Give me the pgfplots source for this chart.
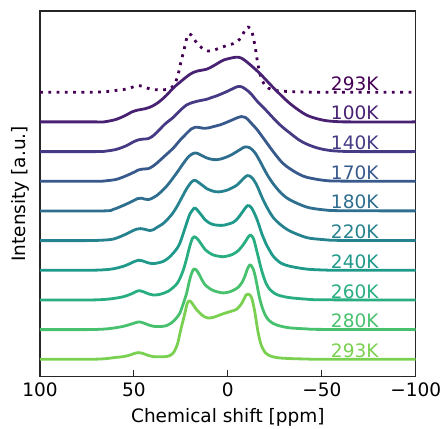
\documentclass[border=0pt]{standalone}
\usepackage{fontspec}
\setmainfont{DejaVu Sans}
\usepackage{pgfplots}
\usepackage{pgfplotstable}
\pgfplotsset{compat=1.18}

\definecolor{c0}{HTML}{440154}
\definecolor{c1}{HTML}{482173}
\definecolor{c2}{HTML}{443B84}
\definecolor{c3}{HTML}{38598C}
\definecolor{c4}{HTML}{2E6E8E}
\definecolor{c5}{HTML}{26828E}
\definecolor{c6}{HTML}{1F998A}
\definecolor{c7}{HTML}{28AE80}
\definecolor{c8}{HTML}{48C16E}
\definecolor{c9}{HTML}{7AD151}
\newcommand\fs{\fontsize{18.5}{22}\selectfont}

% spectra: chemical shift (ppm) vs. height above own baseline
\pgfplotstableread{
x h
100 0
70 0
66 0
60 2.2
55 6
51 10
48 11.8
44 13.2
40.5 15.5
37 19.5
33 26
29 34
25.5 39.7
20.1 47.7
16.5 50.7
11.3 52.7
7.7 56
2.4 61.7
-2.9 64.3
-5.6 64.7
-8.2 62.7
-11.8 57.3
-17.1 48.3
-24.2 34.3
-33.1 18.3
-42 6.7
-50.8 1.7
-58 0.3
-65 0
-100 0
}\tA

\pgfplotstableread{
x h
100 0
70 0
64.5 0.6
59.2 2.3
53.9 6
50.5 9.5
47.7 11.7
45 12.5
42.3 13
40 15.5
37.9 19
33.5 27.5
29 34.3
25.5 41
21.9 46.7
18.4 49.3
14.8 51
11.3 52.3
8.5 54.2
6 55.7
0.6 60
-2.5 62.8
-4.7 64.7
-6 65.2
-7.4 64.8
-10 61.7
-12.5 57.5
-15.3 51
-20 42
-24.2 33.5
-28.5 25.5
-33.1 18.5
-38 11.5
-42 7.5
-46.5 4.3
-50.8 2.2
-56 0.8
-62 0.2
-70 0
-100 0
}\tB

\pgfplotstableread{
x h
100 0
70 0
64.5 0.6
59.2 2
53.9 5.7
49.5 9.5
47.7 11.3
45 12.3
42.3 12.7
40 15
37.9 18
33.5 25.5
29 33.3
25.5 41
21.9 48
19.5 52.3
17.5 54
15.2 53.8
13 53
10 53.5
7.7 54.7
4 56.5
0.6 59
-2.5 61.5
-4.7 63.3
-7.2 64.7
-9.2 64
-10.9 61.3
-13 57
-15.3 52.3
-18 45.5
-20.7 38.5
-24.2 29.5
-29 18.5
-33.1 12.5
-38 7
-42 4
-50.8 1
-60 0.2
-100 0
}\tC

\pgfplotstableread{
x h
100 0
66 0
61 1.5
55.6 5.5
51 9.5
48 12.3
46 12.7
42.3 11.3
37.9 15.3
32.6 24.7
27.2 38
23.5 48
20.5 55
17.5 58
14.8 56.3
11.3 53
7.7 51.3
4.2 51.7
-1.1 55.3
-6.5 61.3
-9.1 64
-11.8 63
-14.5 58
-17.1 49.7
-20.7 37
-24.2 27
-28.5 17.5
-33.1 11
-42 3.8
-50.8 1.1
-60 0.2
-100 0
}\tD

\pgfplotstableread{
x h
100 0
75 0
66 0.5
61 1.5
55.6 5.3
51 9.5
48.5 11.5
46.5 12
44 11.2
41.4 10
39.5 11
37.9 13
35 16.3
32.6 20.3
29.5 27
27.2 33.7
24.5 43
21.9 52
19.3 58.7
17.5 60.3
15.5 58
13 54.5
11.3 52
8 49.5
5 48.7
0.6 50.3
-4.7 55.3
-8 61.5
-10.3 65
-12.5 63.5
-15 57
-16.9 49
-18.9 40.3
-21.5 31
-24.2 23
-28 16
-33.1 9.5
-42 3
-50.8 1
-60 0.2
-100 0
}\tE

\pgfplotstableread{
x h
100 0
75 0
66 0.5
61 1.5
55.6 4
52 6.8
49.5 9
47.7 10
45.5 9.5
42.5 7.5
39.7 6.7
37 7.5
34.3 9
31.5 12.5
29 17.3
27 22
25.5 27.3
23.7 37
21.9 47.3
20.6 54.5
19.3 59
17.8 62.3
16.8 61.5
15.7 59
14 55
12.2 50.7
10 47.5
7.7 45.7
5 45
2.4 45
-0.3 46.3
-2.9 48
-5.3 52
-7.4 57.3
-9 61.5
-10.4 64.7
-11.5 64.5
-12.7 62.3
-14 57.5
-15.3 52
-16.7 44.5
-18 37
-19.4 30.5
-20.7 25
-22.5 19
-24.2 14
-28 7.5
-33.1 4
-42 1.2
-50.8 0.3
-60 0
-100 0
}\tF

\pgfplotstableread{
x h
100 0
75 0
66 0.5
61 1.5
55.6 3.3
51.5 6
48.5 8.7
47.2 9.3
45 8.3
42 6
39.7 5
36.5 5.5
34.3 6.7
31.5 9
29 12.7
27 16.5
25.5 21.7
23.7 30
21.9 41.7
20.8 50
19.8 56.7
18.9 61.5
18 63.3
17 62.5
15.7 60
14 55.5
12.2 50.7
10 47.3
7.7 45
5 43.8
2.4 43.3
-0.5 44.3
-2.9 46
-5.3 49
-7.4 53.3
-9 57.5
-10.4 61.7
-11.4 64.3
-12.1 65
-13 63.5
-13.9 60
-15 52
-16.2 43
-17.5 33
-18.9 24
-20.5 16
-22.4 10.5
-25 6.5
-27.8 4.3
-33.1 2.3
-42 0.8
-50.8 0.2
-100 0
}\tG

\pgfplotstableread{
x h
100 0
75 0
66 0.5
61 1.5
55.6 3.3
51.5 5.5
48.5 7.3
47 7.7
45 6.7
42 4.5
39.7 3.3
34.3 3.3
31.5 5
29 8.3
27 12.5
25.5 16.7
23.7 26
21.9 36.7
20.8 46
19.8 53.3
18.7 59
18 60.7
17 60
15.7 56.7
14 50.5
12.2 45
10 41.5
7.7 39
5 37.5
2.4 36.7
-0.5 37.5
-2.9 39.3
-5.3 42
-7.4 46.7
-9 53
-10.2 59.5
-11.5 64.5
-12.3 64.5
-13.6 60
-14.5 54
-15.3 46.7
-16.2 38
-17.1 30
-18.5 21
-19.8 15
-21.5 10
-24.2 6
-28 3.5
-33.1 1.7
-42 0.7
-50 0.2
-100 0
}\tH

\pgfplotstableread{
x h
100 0
75 0
66 0.5
60 1.8
55.6 2.7
52 4.3
49.5 6
47.7 6.7
45.5 6
43 4.3
39.7 2.7
34.3 2.5
31.5 3.3
29.5 5.5
28.1 9.3
26.7 16
25.5 26
24.4 34.5
23.3 42.7
22.4 50
21.6 56
20.6 58.5
19.6 57.5
18.4 54.3
16.6 49.5
14.8 46
12.5 42.5
10.5 41.3
7.7 42
3.3 45
-1.1 47.7
-4.7 50
-7.4 56
-9.7 64.3
-10.9 65.3
-12 63.8
-12.9 60
-13.7 53.5
-14.5 46
-15.3 36
-16.2 26
-17.3 17
-18.5 11
-20 6.5
-21.5 4.3
-24 2.5
-27.8 1.3
-35 0.6
-42 0.3
-50 0
-100 0
}\tI

\begin{document}
\begin{tikzpicture}
\begin{axis}[
  scale only axis, width=375.7pt, height=365.7pt,
  x dir=reverse, xmin=-100, xmax=100, ymin=0, ymax=365.7,
  xtick={100,50,0,-50,-100}, xticklabels={100,50,0,−50,−100},
  ytick=\empty, xtick pos=bottom, tick align=inside,
  major tick length=7pt,
  tick style={black!85, line width=1pt},
  axis line style={black!85, line width=1.2pt},
  xticklabel style={font=\fs, inner sep=0pt, anchor=north, yshift=-6pt},
  xlabel={Chemical shift [ppm]},
  xlabel style={font=\fs, at={(axis description cs:0.5,0)}, anchor=base, yshift=-46pt},
  ylabel={Intensity [a.u.]},
  ylabel style={font=\fs, at={(axis description cs:-0.0266,0.5)}, anchor=south, inner sep=0pt},
  every axis plot/.append style={line width=2.8pt, smooth, line join=round},
]
\addplot[c0, line width=2.8pt, dash pattern=on 2.8pt off 5.5pt] table[x=x, y expr=\thisrow{h}+284.4] {\tI};
\addplot[c1] table[x=x, y expr=\thisrow{h}+254.8] {\tA};
\addplot[c2] table[x=x, y expr=\thisrow{h}+225.1] {\tB};
\addplot[c3] table[x=x, y expr=\thisrow{h}+195.4] {\tC};
\addplot[c4] table[x=x, y expr=\thisrow{h}+165.8] {\tD};
\addplot[c5] table[x=x, y expr=\thisrow{h}+136.1] {\tE};
\addplot[c6] table[x=x, y expr=\thisrow{h}+106.4] {\tF};
\addplot[c7] table[x=x, y expr=\thisrow{h}+76.7] {\tG};
\addplot[c8] table[x=x, y expr=\thisrow{h}+47.1] {\tH};
\addplot[c9] table[x=x, y expr=\thisrow{h}+17.4] {\tI};

\begin{scope}[every node/.style={font=\fs, anchor=base west, inner sep=0pt}]
\node[text=c0] at (axis cs:-54.8,286.4) {293K};
\node[text=c1] at (axis cs:-54.8,256.8) {100K};
\node[text=c2] at (axis cs:-54.8,227.1) {140K};
\node[text=c3] at (axis cs:-54.8,197.4) {170K};
\node[text=c4] at (axis cs:-54.8,167.8) {180K};
\node[text=c5] at (axis cs:-54.8,138.1) {220K};
\node[text=c6] at (axis cs:-54.8,108.4) {240K};
\node[text=c7] at (axis cs:-54.8,78.7) {260K};
\node[text=c8] at (axis cs:-54.8,49.1) {280K};
\node[text=c9] at (axis cs:-54.8,19.4) {293K};
\end{scope}
\end{axis}
\pgfresetboundingbox
\path ([shift={(-40pt,-51.3pt)}]current axis.south west) rectangle ([shift={(27.3pt,11pt)}]current axis.north east);
\end{tikzpicture}
\end{document}
